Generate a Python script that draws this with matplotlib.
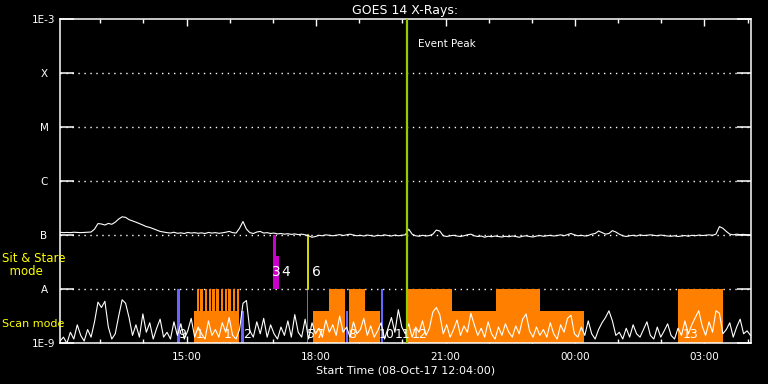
import numpy as np
import matplotlib.pyplot as plt
from matplotlib.ticker import FixedLocator, FuncFormatter

# time in hours since 00:00 08-Oct-17 (values > 24 are next day)
t_start = 12 + 4 / 60.
t_stop = t_start + 16.0
times = t_start + 0.08 * np.arange(201)

# GOES 14 1-8 A channel, units of 1e-7 W/m2
long_flux = np.array([
    1.14, 1.12, 1.13, 1.12, 1.14, 1.13, 1.12, 1.13, 1.14, 1.15,
    1.30, 1.65, 1.62, 1.55, 1.66, 1.60, 1.75, 2.00, 2.20, 2.15,
    1.95, 1.85, 1.75, 1.65, 1.55, 1.45, 1.40, 1.32, 1.25, 1.18,
    1.15, 1.12, 1.10, 1.14, 1.09, 1.11, 1.08, 1.13, 1.10, 1.12,
    1.09, 1.11, 1.08, 1.13, 1.10, 1.12, 1.09, 1.11, 1.14, 1.18,
    1.12, 1.10, 1.35, 1.80, 1.30, 1.12, 1.08, 1.15, 1.18, 1.10,
    1.12, 1.08, 1.10, 1.06, 1.08, 1.05, 1.07, 1.04, 1.06, 1.03,
    1.05, 1.02, 0.98, 0.92, 0.95, 1.00, 0.98, 1.02, 1.00, 0.98,
    1.00, 1.03, 0.99, 1.02, 1.05, 1.01, 0.98, 1.00, 0.97, 1.01,
    0.99, 0.96, 1.00, 0.98, 1.02, 0.99, 0.97, 1.01, 0.98, 1.00,
    1.02, 1.30, 1.05, 0.98, 0.96, 1.00, 0.97, 0.99, 1.05, 1.25,
    1.20, 0.98, 0.95, 0.98, 1.00, 0.97, 0.95, 0.98, 1.02, 1.05,
    0.98, 0.95, 0.97, 0.92, 0.96, 0.94, 0.97, 0.95, 0.93, 0.96,
    0.94, 0.97, 0.95, 0.92, 0.96, 0.98, 0.95, 0.93, 0.97, 0.99,
    0.96, 0.98, 1.00, 0.97, 0.99, 1.02, 0.98, 1.03, 1.08, 1.02,
    0.98, 1.00, 0.97, 0.99, 1.05, 1.08, 1.20, 1.12, 1.05, 1.08,
    1.22, 1.15, 1.05, 0.98, 0.95, 0.98, 1.00, 0.97, 1.02, 0.99,
    1.00, 1.02, 1.00, 0.98, 1.01, 0.99, 0.97, 0.96, 0.98, 0.95,
    0.97, 0.99, 0.96, 1.00, 0.98, 1.01, 0.99, 1.00, 1.02, 1.00,
    1.05, 1.45, 1.35, 1.18, 1.05, 1.02, 1.05, 1.03, 1.04, 1.02, 1.00,
]) * 1e-7

# 0.5-4 A channel, units of 1e-9 W/m2
short_flux = np.array([
    1.1, 1.3, 1.0, 1.6, 1.2, 2.2, 1.4, 1.1, 1.8, 1.3,
    2.5, 5.8, 4.6, 6.0, 2.0, 1.2, 1.5, 3.2, 6.4, 5.5,
    3.0, 1.4, 2.2, 1.3, 3.5, 1.6, 2.4, 1.2, 1.9, 2.8,
    1.3, 1.6, 1.2, 2.5, 1.4, 2.3, 1.2, 1.7, 2.9, 1.3,
    2.0, 1.5, 1.2, 2.6, 1.4, 1.8, 1.3, 2.4, 1.6, 3.0,
    1.4, 1.2, 1.8, 5.5, 6.2, 1.7, 1.3, 2.5, 1.5, 2.9,
    1.3, 2.2, 1.5, 1.2, 2.0, 1.4, 2.6, 1.3, 3.4, 1.6,
    1.3, 2.8, 1.2, 2.4, 1.5, 1.9, 1.3, 2.7, 1.6, 2.2,
    1.4, 3.2, 1.6, 2.0, 1.3, 2.5, 1.5, 1.8, 2.9, 1.4,
    2.1, 1.3, 1.7, 2.4, 1.2, 1.9, 3.0, 1.6, 4.2, 2.0,
    1.5, 2.3, 1.3, 2.0, 1.6, 2.6, 1.4, 1.9, 3.8, 4.6,
    3.4, 1.5, 2.2, 1.3, 1.8, 2.7, 1.4, 2.1, 1.6, 3.6,
    2.2, 1.4, 1.9, 1.3, 2.5, 1.5, 1.2, 2.0, 1.4, 2.3,
    1.6, 1.3, 2.1, 1.5, 2.8, 3.5, 1.7, 1.3, 2.0, 1.4,
    1.8, 1.3, 2.4, 1.5, 1.2, 2.2, 1.6, 2.9, 3.3, 1.5,
    1.3, 2.0, 1.4, 2.6, 1.5, 1.2, 1.8, 2.4, 3.0, 4.0,
    2.6, 1.4, 1.6, 1.2, 1.9, 1.3, 2.2, 1.5, 1.3, 1.8,
    2.5, 1.4, 1.2, 2.0, 1.3, 1.7, 2.3, 1.4, 1.2, 1.9,
    1.4, 2.6, 1.5, 2.2, 3.0, 4.0, 2.1, 1.4, 2.5, 1.6,
    4.0, 3.6, 1.5, 1.8, 2.4, 1.3, 2.0, 2.8, 1.5, 1.7, 1.4,
]) * 1e-9

# scan mode observations (orange)
scan_start = [15.18, 17.94, 18.31, 18.77, 18.77, 20.14, 21.15, 22.16, 23.20, 26.38]
scan_end = [16.22, 18.68, 18.68, 19.14, 19.49, 21.15, 22.16, 23.20, 24.22, 27.42]
scan_top = [4e-9, 4e-9, 1e-8, 1e-8, 4e-9, 1e-8, 4e-9, 1e-8, 4e-9, 1e-8]
stripe_start = [15.23, 15.32, 15.42, 15.51, 15.60, 15.69, 15.79, 15.88, 15.97, 16.07, 16.16]
stripe_len = 0.05

# short scans (blue)
blue_start = [14.78, 16.27, 17.78, 18.70, 19.51, 20.05]
blue_end = [14.85, 16.34, 17.82, 18.75, 19.56, 20.07]
blue_top = [1e-8, 4e-9, 1e-8, 4e-9, 1e-8, 4e-9]

# sit & stare (magenta)
sit_start = [17.01, 17.01]
sit_end = [17.08, 17.15]
sit_top = [1e-7, 4.1e-8]
sit_line = 17.82

event_peak = 20.106

scan_labels = ['9', '1', '1', '2', '5', '7', '8', '10', '11', '12', '13']
scan_label_t = [14.80, 15.22, 15.87, 16.31, 17.78, 17.99, 18.75, 19.45, 19.82, 20.21, 26.50]
sit_labels = ['3', '4', '6']
sit_label_t = [16.98, 17.19, 17.91]

levels = [1e-9, 1e-8, 1e-7, 1e-6, 1e-5, 1e-4, 1e-3]
level_names = ['1E-9', 'A', 'B', 'C', 'M', 'X', '1E-3']

fig = plt.figure(figsize=(7.68, 3.84), dpi=100, facecolor='black')
ax = fig.add_axes([60 / 768., 1 - 343.3 / 384., 690.5 / 768., 324 / 384.])
ax.set_facecolor('black')
ax.set_yscale('log')
ax.set_ylim(1e-9, 1e-3)
ax.set_xlim(t_start, t_stop)

for lv in levels[1:-1]:
    ax.axhline(lv, color='white', lw=1.0, ls=(0, (1, 3.3)), zorder=1)

orange = '#ff8000'
for s, e, top in zip(scan_start, scan_end, scan_top):
    ax.bar(s, top - 1e-9, width=e - s, bottom=1e-9, align='edge', color=orange, lw=0, zorder=2)
for s in stripe_start:
    ax.bar(s, 1e-8 - 1e-9, width=stripe_len, bottom=1e-9, align='edge', color=orange, lw=0, zorder=2)
for s, e, top in zip(blue_start, blue_end, blue_top):
    ax.bar(s, top - 1e-9, width=e - s, bottom=1e-9, align='edge', color='#6666ff', lw=0, zorder=2)
for s, e, top in zip(sit_start, sit_end, sit_top):
    ax.bar(s, top - 1e-8, width=e - s, bottom=1e-8, align='edge', color='#cc00cc', lw=0, zorder=2)
ax.plot([sit_line, sit_line], [1e-8, 1e-7], color='yellow', lw=1.2, zorder=3)

ax.plot(times, long_flux, color='white', lw=0.8, zorder=4)
ax.plot(times, short_flux, color='white', lw=0.8, zorder=4)

ax.axvline(event_peak, color='#99cc00', lw=1.6, zorder=5)
ax.text(event_peak + 0.25, 10 ** -3.45, 'Event Peak', color='white', fontsize=7.5, va='center')

for lab, t in zip(scan_labels, scan_label_t):
    ax.text(t, 1.45e-9, lab, color='white', fontsize=9, va='center', zorder=6)
for lab, t in zip(sit_labels, sit_label_t):
    ax.text(t, 2.1e-8, lab, color='white', fontsize=10, va='center', zorder=6)

for sp in ax.spines.values():
    sp.set_color('white')
    sp.set_linewidth(1.1)

ax.yaxis.set_major_locator(FixedLocator(levels))
ax.yaxis.set_minor_locator(FixedLocator([]))
ax.set_yticklabels(level_names)
ax.tick_params(axis='y', which='major', direction='in', length=10, width=1.1,
               color='white', labelcolor='white', labelsize=7.5, right=True, pad=11.5)
for lab in ax.get_yticklabels():
    lab.set_horizontalalignment('center')

ax.xaxis.set_major_locator(FixedLocator([15, 18, 21, 24, 27]))
ax.xaxis.set_minor_locator(FixedLocator(list(range(13, 29))))
ax.xaxis.set_major_formatter(FuncFormatter(lambda v, p: '%02d:00' % (int(round(v)) % 24)))
ax.tick_params(axis='x', which='major', direction='in', length=5, width=1,
               color='white', labelcolor='white', labelsize=7.5, top=True, pad=6)
ax.tick_params(axis='x', which='minor', direction='in', length=3, width=1,
               color='white', top=True)

ax.set_title('GOES 14 X-Rays:', color='white', fontsize=9, pad=4)
ax.set_xlabel('Start Time (08-Oct-17 12:04:00)', color='white', fontsize=8, labelpad=3)

fig.text(2 / 768., 1 - 265 / 384., 'Sit & Stare\n  mode', color='yellow', fontsize=8.5,
         va='center', ha='left', linespacing=1.0)
fig.text(2 / 768., 1 - 324 / 384., 'Scan mode', color='yellow', fontsize=8, va='center', ha='left')

fig.savefig('out.png', dpi=100, facecolor='black')
